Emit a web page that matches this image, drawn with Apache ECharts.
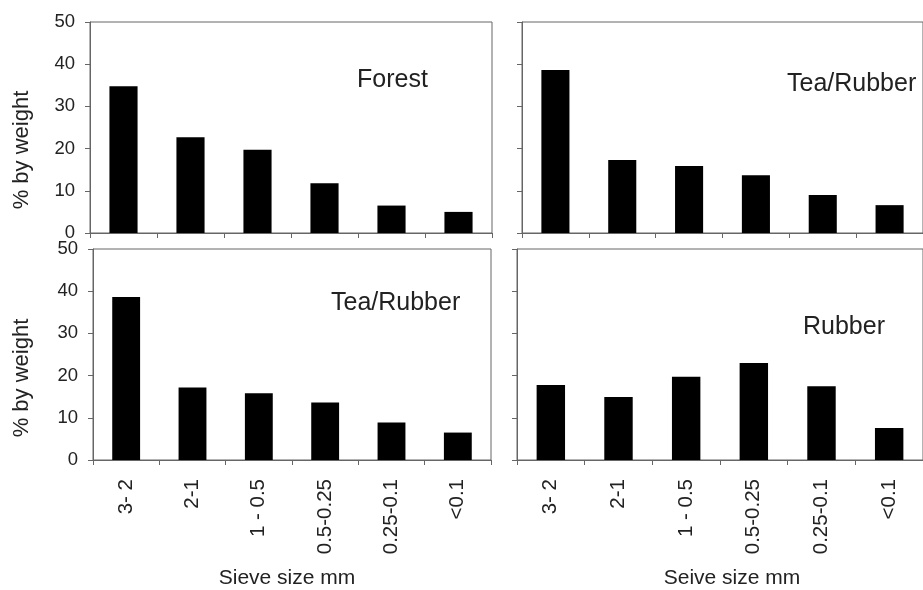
<!DOCTYPE html>
<html>
<head>
<meta charset="utf-8">
<script src="https://cdn.jsdelivr.net/npm/echarts@6/dist/echarts.min.js"></script>
<style>
html,body{margin:0;padding:0;background:#fff;}
#chart{width:923px;height:590px;}
</style>
</head>
<body>
<div id="chart"></div>
<script>
var categories = ['3- 2', '2-1', '1 - 0.5', '0.5-0.25', '0.25-0.1', '<0.1'];
var forestValues = [34.8, 22.7, 19.7, 11.8, 6.5, 5.0];
var teaRubberTopValues = [38.6, 17.3, 15.9, 13.7, 9.0, 6.6];
var teaRubberBottomValues = [38.6, 17.2, 15.8, 13.6, 8.9, 6.5];
var rubberValues = [17.8, 14.9, 19.7, 23.0, 17.5, 7.6];
var yTicks = { min: 0, max: 50, interval: 10 };
var panelNames = ['Forest', 'Tea/Rubber', 'Tea/Rubber', 'Rubber'];
var yTitle = '% by weight';
var xTitles = ['Sieve size mm', 'Seive size mm'];

var FONT = 'Liberation Sans, Arial, sans-serif';
var AXIS_COLOR = '#666';
var TEXT_COLOR = '#222';

var grids = [
  { left: 90, top: 22, width: 402, height: 211 },
  { left: 522, top: 22, width: 409, height: 211 },
  { left: 93, top: 249, width: 398, height: 211 },
  { left: 517, top: 249, width: 418, height: 211 }
];
var seriesData = [forestValues, teaRubberTopValues, teaRubberBottomValues, rubberValues];

var option = {
  animation: false,
  backgroundColor: '#fff',
  grid: grids.map(function (g) {
    return Object.assign({ show: true, borderColor: AXIS_COLOR, borderWidth: 1, backgroundColor: 'transparent' }, g);
  }),
  xAxis: grids.map(function (g, i) {
    return {
      type: 'category',
      gridIndex: i,
      data: categories,
      axisLine: { lineStyle: { color: AXIS_COLOR, width: 1 } },
      axisTick: { show: true, length: 5, lineStyle: { color: AXIS_COLOR } },
      axisLabel: {
        show: i >= 2,
        rotate: 90,
        interval: 0,
        margin: 19,
        fontSize: 20.5,
        fontFamily: FONT,
        color: TEXT_COLOR
      },
      splitLine: { show: false }
    };
  }),
  yAxis: grids.map(function (g, i) {
    return {
      type: 'value',
      gridIndex: i,
      min: yTicks.min,
      max: yTicks.max,
      interval: yTicks.interval,
      axisLine: { show: true, lineStyle: { color: AXIS_COLOR, width: 1 } },
      axisTick: { show: true, length: 5, lineStyle: { color: AXIS_COLOR } },
      axisLabel: {
        show: i % 2 === 0,
        margin: 15,
        fontSize: 18.5,
        fontFamily: FONT,
        color: TEXT_COLOR
      },
      splitLine: { show: false }
    };
  }),
  series: seriesData.map(function (d, i) {
    return {
      type: 'bar',
      xAxisIndex: i,
      yAxisIndex: i,
      data: d,
      barWidth: '42%',
      itemStyle: { color: '#000' }
    };
  }),
  graphic: [
    { type: 'text', style: { text: panelNames[0], x: 357, y: 80, font: '25px ' + FONT, fill: TEXT_COLOR, textAlign: 'left', textVerticalAlign: 'middle', align: 'left', verticalAlign: 'middle' } },
    { type: 'text', style: { text: panelNames[1], x: 787, y: 84, font: '25px ' + FONT, fill: TEXT_COLOR, textAlign: 'left', textVerticalAlign: 'middle', align: 'left', verticalAlign: 'middle' } },
    { type: 'text', style: { text: panelNames[2], x: 331, y: 303, font: '25px ' + FONT, fill: TEXT_COLOR, textAlign: 'left', textVerticalAlign: 'middle', align: 'left', verticalAlign: 'middle' } },
    { type: 'text', style: { text: panelNames[3], x: 803, y: 327, font: '25px ' + FONT, fill: TEXT_COLOR, textAlign: 'left', textVerticalAlign: 'middle', align: 'left', verticalAlign: 'middle' } },
    { type: 'text', x: 22, y: 150, rotation: Math.PI / 2, style: { text: yTitle, x: 0, y: 0, font: '22px ' + FONT, fill: TEXT_COLOR, textAlign: 'center', textVerticalAlign: 'middle', align: 'center', verticalAlign: 'middle' } },
    { type: 'text', x: 22, y: 378, rotation: Math.PI / 2, style: { text: yTitle, x: 0, y: 0, font: '22px ' + FONT, fill: TEXT_COLOR, textAlign: 'center', textVerticalAlign: 'middle', align: 'center', verticalAlign: 'middle' } },
    { type: 'text', style: { text: xTitles[0], x: 287, y: 578, font: '21px ' + FONT, fill: TEXT_COLOR, textAlign: 'center', textVerticalAlign: 'middle', align: 'center', verticalAlign: 'middle' } },
    { type: 'text', style: { text: xTitles[1], x: 732, y: 578, font: '21px ' + FONT, fill: TEXT_COLOR, textAlign: 'center', textVerticalAlign: 'middle', align: 'center', verticalAlign: 'middle' } }
  ]
};

var chart = echarts.init(document.getElementById('chart'), null, { renderer: 'canvas' });
chart.setOption(option);
</script>
</body>
</html>
